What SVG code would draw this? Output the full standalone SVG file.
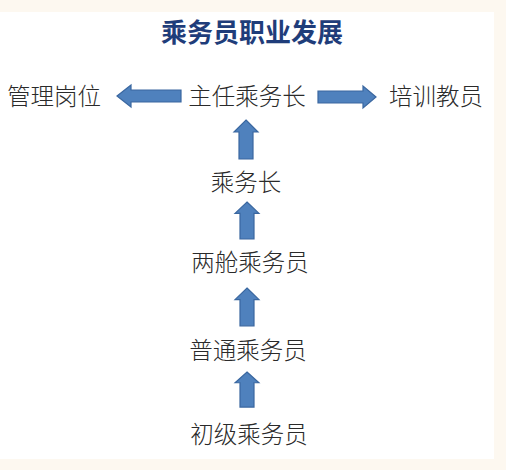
<svg xmlns="http://www.w3.org/2000/svg" width="506" height="470" viewBox="0 0 506 470">
<style>
.t{font-family:"Noto Sans CJK SC","Noto Sans",sans-serif;font-size:23.5px;font-weight:300;fill:#2a2a2a;text-anchor:middle}
.title{font-family:"Noto Sans CJK SC","Noto Sans",sans-serif;font-size:26px;font-weight:bold;fill:#1f3d7a;text-anchor:middle}
.arr{fill:#4f81bd;stroke:#3a67a0;stroke-width:1.2;stroke-linejoin:miter}
</style>
<defs>
<path id="up" d="M0,0 L12,12 L7,12 L7,39 L-7,39 L-7,12 L-12,12 Z"/>
</defs>
<rect width="506" height="470" fill="#fdf8f0"/>
<rect x="0" y="12" width="494" height="447" fill="#ffffff"/>
<text class="title" x="252" y="42">乘务员职业发展</text>
<g id="n-guanli"><text class="t" x="54" y="105">管理岗位</text></g>
<g id="n-zhuren"><text class="t" x="247" y="105">主任乘务长</text></g>
<g id="n-peixun"><text class="t" x="436" y="105">培训教员</text></g>
<g id="n-chengwuzhang"><text class="t" x="246" y="191">乘务长</text></g>
<g id="n-liangcang"><text class="t" x="250" y="271">两舱乘务员</text></g>
<g id="n-putong"><text class="t" x="248" y="359">普通乘务员</text></g>
<g id="n-chuji"><text class="t" x="249" y="443">初级乘务员</text></g>
<g id="connectors">
<path class="arr" d="M117,96 L131,85 L131,90 L181,90 L181,102 L131,102 L131,107 Z"/>
<path class="arr" d="M376,97 L363,86 L363,91 L318,91 L318,103 L363,103 L363,108 Z"/>
<use href="#up" class="arr" x="246" y="120"/>
<use href="#up" class="arr" transform="translate(247,202) scale(1,0.95)"/>
<use href="#up" class="arr" transform="translate(247,288) scale(1,0.97)"/>
<use href="#up" class="arr" transform="translate(247,372) scale(1,0.9)"/>
</g>
</svg>
